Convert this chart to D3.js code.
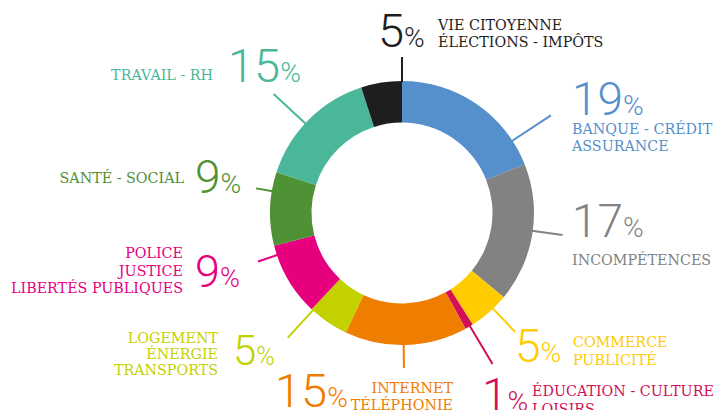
<!DOCTYPE html>
<html>
<head>
<meta charset="utf-8">
<script src="https://cdn.jsdelivr.net/npm/d3@7"></script>
<style>
  html, body { margin: 0; padding: 0; background: #fff; }
  svg { display: block; }
  .lbl { font-family: "DejaVu Serif", serif; font-size: 14.3px; }
  .num { font-family: Roboto, "Noto Sans", sans-serif; font-weight: 300; }
</style>
</head>
<body>
<svg id="chart" width="716" height="410"></svg>
<script>
// Share of complaints by theme (percent), clockwise from 12 o'clock
const categories = ["Banque", "Incompétences", "Commerce", "Éducation", "Internet",
                    "Logement", "Police", "Santé", "Travail", "Vie citoyenne"];
const values = [19, 17, 5, 1, 15, 5, 9, 9, 15, 5];
const labelLines = [
  ["BANQUE - CRÉDIT", "ASSURANCE"],
  ["INCOMPÉTENCES"],
  ["COMMERCE", "PUBLICITÉ"],
  ["ÉDUCATION - CULTURE", "LOISIRS"],
  ["INTERNET", "TÉLÉPHONIE"],
  ["LOGEMENT", "ÉNERGIE", "TRANSPORTS"],
  ["POLICE", "JUSTICE", "LIBERTÉS PUBLIQUES"],
  ["SANTÉ - SOCIAL"],
  ["TRAVAIL - RH"],
  ["VIE CITOYENNE", "ÉLECTIONS - IMPÔTS"]
];
const colors = ["#5590cc", "#828282", "#ffcc00", "#d20f57", "#ef7d00",
                "#c3d100", "#e6007e", "#4f9135", "#4ab79a", "#1e1e1e"];

// Placement of leader lines and texts around the ring
// t: position of the leader inside its slice, len: leader length beyond the ring
// nx/ny: number position, ns: number size, lx/ly: first label line, la: label anchor, ls: line step
const layout = [
  {t: 0.83, len: 46, nx: 572, ny: 115, ns: 46, lx: 572, ly: 134, la: "start", ls: 17},
  {t: 0.48, len: 30, nx: 572, ny: 237, ns: 46, lx: 572, ly: 265, la: "start", ls: 17},
  {t: 0.38, len: 32, nx: 515, ny: 362, ns: 46, lx: 573, ly: 347, la: "start", ls: 18},
  {t: 0.40, len: 44, nx: 482, ny: 411, ns: 46, lx: 532, ly: 396, la: "start", ls: 18},
  {t: 0.52, len: 23, nx: 275, ny: 407, ns: 47, lx: 453, ly: 393, la: "end", ls: 17},
  {t: 0.96, len: 37, nx: 233, ny: 365, ns: 42, lx: 218, ly: 343, la: "end", ls: 16},
  {t: 0.87, len: 20, nx: 195, ny: 287, ns: 45, lx: 183, ly: 258, la: "end", ls: 17.5},
  {t: 0.74, len: 16, nx: 195, ny: 193, ns: 46, lx: 184, ly: 183, la: "end", ls: 17},
  {t: 0.46, len: 43, nx: 228, ny: 82, ns: 47, lx: 213, ly: 80, la: "end", ls: 17},
  {t: 1.00, len: 24, nx: 378, ny: 47, ns: 47, lx: 438, ly: 30, la: "start", ls: 17}
];

const cx = 402, cy = 213, rOuter = 132, rInner = 90.5;

const svg = d3.select("#chart");
const g = svg.append("g").attr("transform", `translate(${cx},${cy})`);

const pie = d3.pie().sort(null).value(d => d)(values);
const arc = d3.arc().innerRadius(rInner).outerRadius(rOuter);

g.selectAll("path.slice")
  .data(pie)
  .join("path")
  .attr("class", "slice")
  .attr("d", arc)
  .attr("fill", (d, i) => colors[i]);

// leader lines
const point = (a, r) => [r * Math.sin(a), -r * Math.cos(a)];
g.selectAll("line.leader")
  .data(pie)
  .join("line")
  .attr("class", "leader")
  .each(function (d, i) {
    const L = layout[i];
    const a = d.startAngle + L.t * (d.endAngle - d.startAngle);
    const [x1, y1] = point(a, rOuter - 1);
    const [x2, y2] = point(a, rOuter + L.len);
    d3.select(this).attr("x1", x1).attr("y1", y1).attr("x2", x2).attr("y2", y2);
  })
  .attr("stroke", (d, i) => colors[i])
  .attr("stroke-width", 2);

// percentages
const nums = svg.selectAll("text.num")
  .data(pie)
  .join("text")
  .attr("class", "num")
  .attr("x", (d, i) => layout[i].nx)
  .attr("y", (d, i) => layout[i].ny)
  .attr("fill", (d, i) => colors[i]);
nums.append("tspan")
  .attr("font-size", (d, i) => layout[i].ns)
  .text(d => d.data);
nums.append("tspan")
  .attr("font-size", (d, i) => Math.round(layout[i].ns * 0.6))
  .text("%");

// theme labels
const labels = svg.selectAll("text.lbl")
  .data(pie)
  .join("text")
  .attr("class", "lbl")
  .attr("text-anchor", (d, i) => layout[i].la)
  .attr("fill", (d, i) => colors[i]);
labels.each(function (d, i) {
  const L = layout[i];
  d3.select(this).selectAll("tspan")
    .data(labelLines[i])
    .join("tspan")
    .attr("x", L.lx)
    .attr("y", (s, k) => L.ly + k * L.ls)
    .text(s => s);
});
</script>
</body>
</html>
